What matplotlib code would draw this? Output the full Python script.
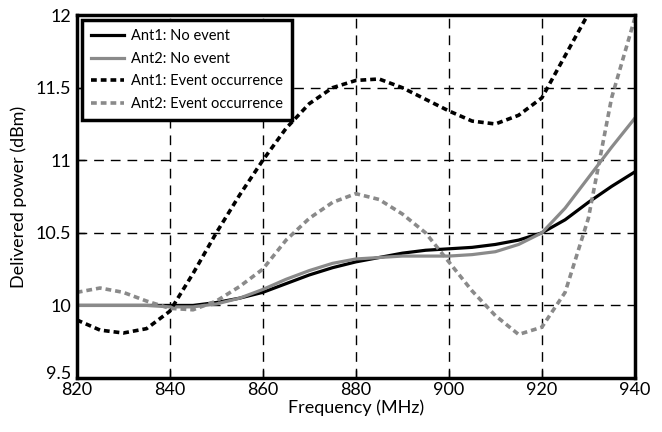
import matplotlib
matplotlib.use("Agg")
import matplotlib.pyplot as plt
from matplotlib.transforms import ScaledTranslation

plt.rcParams['font.family'] = ['Lato', 'DejaVu Sans']

# frequency (MHz)
freq = [820, 825, 830, 835, 840, 845, 850, 855, 860, 865, 870, 875, 880,
        885, 890, 895, 900, 905, 910, 915, 920, 925, 930, 935, 940]

ant1_no_event = [10.00, 10.00, 10.00, 10.00, 10.00, 10.00, 10.02, 10.05, 10.09,
                 10.15, 10.21, 10.26, 10.30, 10.33, 10.36, 10.38, 10.39, 10.40,
                 10.42, 10.45, 10.50, 10.59, 10.71, 10.82, 10.92]
ant2_no_event = [10.00, 10.00, 10.00, 10.00, 9.99, 9.99, 10.01, 10.05, 10.11,
                 10.18, 10.24, 10.29, 10.32, 10.33, 10.34, 10.34, 10.34, 10.35,
                 10.37, 10.42, 10.50, 10.67, 10.88, 11.09, 11.29]
ant1_event = [9.90, 9.83, 9.81, 9.84, 9.96, 10.22, 10.50, 10.76, 11.00, 11.22,
              11.39, 11.50, 11.55, 11.56, 11.50, 11.42, 11.34, 11.27, 11.25,
              11.31, 11.43, 11.72, 12.01, 12.40, 12.80]
ant2_event = [10.09, 10.12, 10.09, 10.03, 9.98, 9.97, 10.03, 10.13, 10.25, 10.45,
              10.60, 10.71, 10.77, 10.73, 10.63, 10.50, 10.30, 10.10, 9.93, 9.80,
              9.85, 10.09, 10.60, 11.43, 11.98]

xticks = [820, 840, 860, 880, 900, 920, 940]
yticks = [9.5, 10, 10.5, 11, 11.5, 12]
ytick_labels = ['9.5', '10', '10.5', '11', '11.5', '12']

gray = '#8a8a8a'

fig = plt.figure(figsize=(6.62, 4.32), dpi=100)
ax = fig.add_axes([0.116, 0.125, 0.843, 0.84])

ax.plot(freq, ant1_no_event, color='black', lw=2.3, label='Ant1: No event')
ax.plot(freq, ant2_no_event, color=gray, lw=2.3, label='Ant2: No event')
ax.plot(freq, ant1_event, color='black', lw=2.6, dashes=(1.6, 1.1),
        label='Ant1: Event occurrence')
ax.plot(freq, ant2_event, color=gray, lw=2.6, dashes=(1.6, 1.1),
        label='Ant2: Event occurrence')

ax.set_xlim(820, 940)
ax.set_ylim(9.5, 12)
ax.set_xticks(xticks)
ax.set_yticks(yticks)
ax.set_yticklabels(ytick_labels)
ax.tick_params(direction='in', length=6, width=1, labelsize=13)
ax.tick_params(axis='x', pad=3)
ax.tick_params(axis='y', pad=4)

# lift the bottom y label a little so it clears the 820 label
lbl = ax.get_yticklabels()[0]
lbl.set_transform(lbl.get_transform() + ScaledTranslation(0, 4 / 72, fig.dpi_scale_trans))

ax.grid(True, color='black', linestyle=(0, (7, 5)), linewidth=1)
ax.set_axisbelow(True)
for sp in ax.spines.values():
    sp.set_linewidth(2.5)

ax.set_xlabel('Frequency (MHz)', fontsize=13, labelpad=1)
ax.set_ylabel('Delivered power (dBm)', fontsize=13, labelpad=6)

leg = ax.legend(loc='upper left', fontsize=10.5, fancybox=False, framealpha=1,
                handlelength=2.3, borderpad=0.6, labelspacing=0.6,
                handletextpad=0.5, borderaxespad=0.35)
leg.get_frame().set_edgecolor('black')
leg.get_frame().set_linewidth(2.5)

fig.savefig('out.png', dpi=100)
